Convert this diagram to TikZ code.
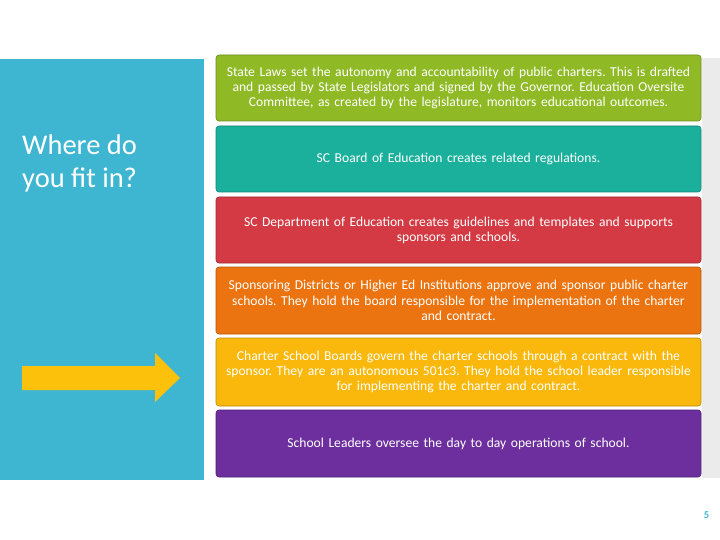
\documentclass[tikz,border=0pt]{standalone}
\usepackage{fontspec}
\setmainfont{Carlito}
\usetikzlibrary{positioning}
\definecolor{panelblue}{HTML}{3FB6D1}
\definecolor{stategreen}{HTML}{8FBA25}
\definecolor{boardteal}{HTML}{1BB09C}
\definecolor{deptred}{HTML}{D33A43}
\definecolor{sponsororange}{HTML}{EB7410}
\definecolor{charteryellow}{HTML}{F9B80B}
\definecolor{leaderpurple}{HTML}{6C2F9D}
\definecolor{arrowyellow}{HTML}{FBC10B}
\definecolor{sidegrey}{HTML}{EBEBEB}
\frenchspacing
\tikzstyle{level}=[rounded corners=3pt,line width=0.6pt,minimum width=485pt,minimum height=66pt,text width=480pt,align=center,text=white,inner sep=0pt,font=\fontsize{13.6}{15.2}\selectfont]

\begin{document}
\begin{tikzpicture}[x=1pt,y=-1pt]
\useasboundingbox (0,0) rectangle (720,540);
\fill[white] (0,0) rectangle (720,540);
\fill[panelblue] (0,59) rectangle (204,480);
\fill[sidegrey] (702,58) rectangle (720,478);
\node[anchor=base west,text=white,align=left,inner sep=0pt,font=\fontsize{28.5}{33}\selectfont] (Title) at (22,188) {Where do\\you fit in?};
\fill[arrowyellow] (22,366) -- (155,366) -- (155,353) -- (180,378) -- (155,402) -- (155,390) -- (22,390) -- cycle;
\node[level,fill=stategreen,draw=stategreen!75!black] (Laws) at (458.5,88) {State Laws set the autonomy and accountability of public charters. This is drafted\\and passed by State Legislators and signed by the Governor. Education Oversite\\Committee, as created by the legislature, monitors educational outcomes.};
\node[level,fill=boardteal,draw=boardteal!75!black] (Board) at (458.5,159) {SC Board of Education creates related regulations.};
\node[level,fill=deptred,draw=deptred!75!black] (Dept) at (458.5,230) {SC Department of Education creates guidelines and templates and supports\\sponsors and schools.};
\node[level,fill=sponsororange,draw=sponsororange!75!black,minimum height=67pt] (Sponsor) at (458.5,300.5) {Sponsoring Districts or Higher Ed Institutions approve and sponsor public charter\\schools. They hold the board responsible for the implementation of the charter\\and contract.};
\node[level,fill=charteryellow,draw=charteryellow!75!black,minimum height=68pt] (Charter) at (458.5,372) {Charter School Boards govern the charter schools through a contract with the\\sponsor. They are an autonomous 501c3. They hold the school leader responsible\\for implementing the charter and contract.};
\node[level,fill=leaderpurple,draw=leaderpurple!75!black,minimum height=67pt] (Leaders) at (458.5,443.5) {School Leaders oversee the day to day operations of school.};
\node[text=panelblue,font=\fontsize{10.5}{11}\selectfont\bfseries,inner sep=0pt] (Page) at (706.5,515.5) {5};
\end{tikzpicture}
\end{document}
